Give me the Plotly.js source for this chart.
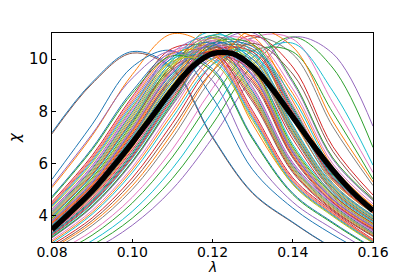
<!DOCTYPE html>
<html>
<head>
<meta charset="utf-8">
<script src="https://cdn.plot.ly/plotly-3.0.1.min.js"></script>
<style>
  html, body { margin: 0; padding: 0; background: #fff; }
  #chart { width: 415px; height: 277px; }
</style>
</head>
<body>
<div id="chart"></div>
<script>
// lambda grid of the thin curves
const lam = [0.08, 0.09, 0.10, 0.11, 0.12, 0.13, 0.14, 0.15, 0.16];

// thin curves (chi values read at each lambda of lam)
const c00 = [3.78, 5.25, 7.27, 9.45, 10.50, 9.35, 6.41, 4.62, 3.57];
const c01 = [5.08, 7.07, 9.41, 10.97, 10.33, 7.51, 5.23, 4.02, 2.98];
const c02 = [2.17, 2.88, 3.91, 5.43, 7.51, 9.77, 10.85, 9.66, 6.62];
const c03 = [4.02, 5.59, 7.68, 9.69, 10.22, 8.45, 5.72, 4.25, 3.24];
const c04 = [2.04, 2.69, 3.64, 5.02, 6.99, 9.30, 10.84, 10.21, 7.43];
const c05 = [7.14, 9.06, 10.23, 9.61, 6.99, 4.86, 3.74, 2.78, 2.11];
const c06 = [2.54, 3.42, 4.71, 6.55, 8.88, 10.80, 10.77, 8.33, 5.66];
const c07 = [2.68, 3.63, 5.01, 6.98, 9.29, 10.82, 10.19, 7.41, 5.16];
const c08 = [3.53, 4.88, 6.78, 9.03, 10.53, 9.91, 7.21, 5.01, 3.86];
const c09 = [2.29, 3.05, 4.17, 5.81, 7.98, 10.07, 10.61, 8.77, 5.94];
const c10 = [7.19, 9.11, 10.29, 9.67, 7.03, 4.89, 3.76, 2.79, 2.12];
const c11 = [3.45, 4.75, 6.61, 8.96, 10.90, 10.86, 8.40, 5.71, 4.37];
const c12 = [2.43, 3.26, 4.49, 6.25, 8.48, 10.31, 10.28, 7.95, 5.41];
const c13 = [2.89, 3.92, 5.45, 7.54, 9.81, 10.90, 9.70, 6.65, 4.80];
const c14 = [4.41, 6.14, 8.32, 10.12, 10.09, 7.80, 5.30, 4.06, 3.02];
const c15 = [3.67, 5.10, 7.06, 9.18, 10.20, 9.08, 6.22, 4.49, 3.47];
const c16 = [3.08, 4.21, 5.86, 8.06, 10.16, 10.71, 8.86, 5.99, 4.46];
const c17 = [3.46, 4.78, 6.66, 8.86, 10.33, 9.72, 7.07, 4.92, 3.79];
const c18 = [4.13, 5.76, 7.91, 9.97, 10.52, 8.69, 5.88, 4.38, 3.34];
const c19 = [3.23, 4.45, 6.20, 8.40, 10.22, 10.19, 7.88, 5.36, 4.10];
const c20 = [5.40, 7.50, 9.70, 10.32, 8.53, 5.77, 4.30, 3.28, 2.44];
const c21 = [3.76, 5.20, 7.23, 9.63, 11.22, 10.57, 7.68, 5.34, 4.11];
const c22 = [3.92, 5.45, 7.54, 9.81, 10.90, 9.70, 6.65, 4.80, 3.71];
const c23 = [4.54, 6.31, 8.56, 10.41, 10.38, 8.03, 5.46, 4.17, 3.10];
const c24 = [3.16, 4.33, 6.03, 8.28, 10.45, 11.01, 9.10, 6.16, 4.58];
const c25 = [3.98, 5.54, 7.61, 9.60, 10.12, 8.36, 5.66, 4.21, 3.21];
const c26 = [3.82, 5.30, 7.34, 9.54, 10.60, 9.43, 6.47, 4.66, 3.60];
const c27 = [3.17, 4.37, 6.08, 8.24, 10.02, 9.99, 7.73, 5.25, 4.02];
const c28 = [3.60, 4.97, 6.91, 9.20, 10.72, 10.10, 7.34, 5.11, 3.93];
const c29 = [4.37, 6.08, 8.24, 10.02, 9.99, 7.73, 5.25, 4.02, 2.99];
const c30 = [4.74, 6.59, 8.78, 10.23, 9.63, 7.00, 4.87, 3.75, 2.78];
const c31 = [3.74, 5.20, 7.20, 9.36, 10.40, 9.26, 6.34, 4.58, 3.54];
const c32 = [3.19, 4.37, 6.08, 8.36, 10.54, 11.11, 9.18, 6.22, 4.63];
const c33 = [3.40, 4.69, 6.53, 8.69, 10.13, 9.54, 6.94, 4.82, 3.71];
const c34 = [4.25, 5.92, 8.13, 10.26, 10.81, 8.94, 6.05, 4.50, 3.43];
const c35 = [3.30, 4.54, 6.31, 8.56, 10.41, 10.38, 8.03, 5.46, 4.17];
const c36 = [4.49, 6.25, 8.48, 10.31, 10.28, 7.95, 5.41, 4.13, 3.07];
const c37 = [3.85, 5.35, 7.40, 9.63, 10.70, 9.52, 6.53, 4.71, 3.64];
const c38 = [4.06, 5.65, 7.76, 9.79, 10.32, 8.53, 5.77, 4.30, 3.28];
const c39 = [3.66, 5.06, 7.04, 9.37, 10.92, 10.29, 7.48, 5.20, 4.00];
const c40 = [4.17, 5.81, 7.98, 10.07, 10.61, 8.77, 5.94, 4.42, 3.37];
const c41 = [3.02, 4.13, 5.76, 7.91, 9.97, 10.52, 8.69, 5.88, 4.38];
const c42 = [3.36, 4.62, 6.43, 8.72, 10.61, 10.57, 8.18, 5.56, 4.25];
const c43 = [3.71, 5.15, 7.13, 9.27, 10.30, 9.17, 6.28, 4.53, 3.50];
const c44 = [5.15, 7.13, 9.27, 10.30, 9.17, 6.28, 4.53, 3.50, 2.58];
const c45 = [3.50, 4.83, 6.72, 8.95, 10.43, 9.82, 7.14, 4.97, 3.82];
const c46 = [3.39, 4.66, 6.49, 8.80, 10.70, 10.67, 8.25, 5.61, 4.29];
const c47 = [4.10, 5.70, 7.83, 9.88, 10.42, 8.61, 5.83, 4.34, 3.31];
const c48 = [3.89, 5.40, 7.47, 9.72, 10.80, 9.61, 6.59, 4.75, 3.67];
const c49 = [2.96, 4.06, 5.65, 7.76, 9.79, 10.32, 8.53, 5.77, 4.30];
const c50 = [3.56, 4.92, 6.85, 9.12, 10.63, 10.00, 7.28, 5.06, 3.89];
const c51 = [4.45, 6.20, 8.40, 10.22, 10.19, 7.88, 5.36, 4.10, 3.05];
const c52 = [4.69, 6.53, 8.69, 10.13, 9.54, 6.94, 4.82, 3.71, 2.75];
const c53 = [3.26, 4.49, 6.25, 8.48, 10.31, 10.28, 7.95, 5.41, 4.13];
const c54 = [3.80, 5.28, 7.30, 9.50, 10.55, 9.39, 6.44, 4.64, 3.59];
const c55 = [2.81, 3.82, 5.30, 7.34, 9.54, 10.60, 9.43, 6.47, 4.66];
const c56 = [4.21, 5.86, 8.06, 10.16, 10.71, 8.86, 5.99, 4.46, 3.40];
const c57 = [3.63, 5.01, 6.98, 9.29, 10.82, 10.19, 7.41, 5.16, 3.97];
const c58 = [4.32, 6.02, 8.16, 9.92, 9.89, 7.65, 5.20, 3.98, 2.96];
const c59 = [3.98, 5.53, 7.65, 9.95, 11.05, 9.83, 6.74, 4.86, 3.76];
const c60 = [3.33, 4.58, 6.36, 8.64, 10.51, 10.48, 8.10, 5.51, 4.21];
const c61 = [2.76, 3.73, 5.15, 7.17, 9.54, 11.13, 10.47, 7.62, 5.30];

// thick black curve
const lamMean = [0.080, 0.085, 0.090, 0.095, 0.100, 0.105, 0.110, 0.115, 0.120,
                 0.125, 0.130, 0.135, 0.140, 0.145, 0.150, 0.155, 0.160];
const chiMean = [3.48, 4.20, 4.95, 5.85, 6.80, 7.82, 8.84, 9.71, 10.21,
                 10.21, 9.71, 8.84, 7.79, 6.73, 5.75, 4.90, 4.20];

// axis ticks
const xTicks = [0.08, 0.10, 0.12, 0.14, 0.16];
const xTickText = ['0.08', '0.10', '0.12', '0.14', '0.16'];
const yTicks = [4, 6, 8, 10];
const yTickText = ['4', '6', '8', '10'];

const palette = ['#1f77b4', '#ff7f0e', '#2ca02c', '#d62728', '#9467bd',
                 '#8c564b', '#e377c2', '#7f7f7f', '#bcbd22', '#17becf'];

const thin = [c00, c01, c02, c03, c04, c05, c06, c07, c08, c09,
              c10, c11, c12, c13, c14, c15, c16, c17, c18, c19,
              c20, c21, c22, c23, c24, c25, c26, c27, c28, c29,
              c30, c31, c32, c33, c34, c35, c36, c37, c38, c39,
              c40, c41, c42, c43, c44, c45, c46, c47, c48, c49,
              c50, c51, c52, c53, c54, c55, c56, c57, c58, c59,
              c60, c61];

const traces = thin.map((ys, i) => ({
  x: lam, y: ys, type: 'scatter', mode: 'lines',
  line: { color: palette[i % 10], width: 1, shape: 'spline', smoothing: 1 },
  hoverinfo: 'skip', showlegend: false
}));

traces.push({
  x: lamMean, y: chiMean, type: 'scatter', mode: 'lines',
  line: { color: '#000000', width: 5.5, shape: 'spline', smoothing: 1 },
  hoverinfo: 'skip', showlegend: false
});

const font = { family: 'DejaVu Sans', size: 15, color: '#000000' };
const xFont = { family: 'DejaVu Sans', size: 14, color: '#000000' };

const layout = {
  width: 415, height: 277,
  margin: { l: 52, r: 42, t: 33, b: 35, pad: 0 },
  paper_bgcolor: '#ffffff', plot_bgcolor: '#ffffff',
  font: font,
  showlegend: false,
  xaxis: {
    range: [0.08, 0.16], tickvals: xTicks, ticktext: xTickText,
    ticks: 'inside', ticklen: 3.5, tickwidth: 1, tickcolor: '#000000',
    showline: true, linecolor: '#000000', linewidth: 1, mirror: true,
    showgrid: false, zeroline: false, tickfont: xFont, ticklabelstandoff: -3
  },
  yaxis: {
    range: [3, 11], tickvals: yTicks, ticktext: yTickText,
    ticks: 'inside', ticklen: 3.5, tickwidth: 1, tickcolor: '#000000',
    showline: true, linecolor: '#000000', linewidth: 1, mirror: true,
    showgrid: false, zeroline: false, tickfont: font,
    title: { text: '<i>χ</i>', font: font, standoff: 4 }
  },
  annotations: [{
    text: '<i>λ</i>', xref: 'paper', yref: 'paper', x: 0.5, y: 0,
    xanchor: 'center', yanchor: 'bottom', yshift: -34, borderpad: 0,
    showarrow: false, font: xFont
  }]
};

Plotly.newPlot('chart', traces, layout, { staticPlot: true, displayModeBar: false });
</script>
</body>
</html>
